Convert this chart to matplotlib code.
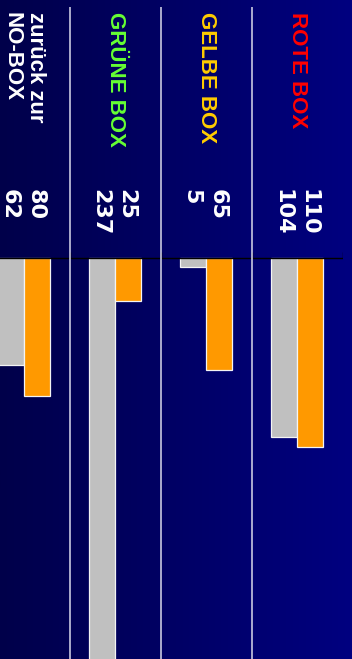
import matplotlib
matplotlib.use('Agg')
import matplotlib.pyplot as plt
import numpy as np
from matplotlib.colors import LinearSegmentedColormap
from matplotlib.transforms import blended_transform_factory

plt.rcParams['font.family'] = ['Liberation Sans', 'DejaVu Sans']

# data (chart is drawn turned by 90 degrees, first category on the right)
categories = ['ROTE BOX', 'GELBE BOX', 'GRÜNE BOX', 'zurück zur\nNO-BOX']
label_colors = ['#FF0000', '#FFCC00', '#66FF33', '#FFFFFF']
gray_values = [104, 5, 237, 62]
orange_values = [110, 65, 25, 80]

W, H = 352, 659
fig = plt.figure(figsize=(W / 100, H / 100), dpi=100)

# background gradient, dark navy on the left to blue on the right
bg = fig.add_axes([0, 0, 1, 1])
cmap = LinearSegmentedColormap.from_list('bg', ['#00004A', '#000080'])
bg.imshow(np.linspace(0, 1, 256)[None, :], aspect='auto', cmap=cmap,
          extent=[0, 1, 0, 1])
bg.axis('off')

# main axes: categories along x, values downward along y
zero_px = 258
px_per_unit = 1.72
top_px = 7
ax = fig.add_axes([-21.5 / W, 0, 364 / W, (H - top_px) / H])
ax.set_xlim(-0.5, 3.5)
ax.set_ylim((H - zero_px) / px_per_unit, -(zero_px - top_px) / px_per_unit)
ax.axis('off')

n = len(categories)
x = np.arange(n)[::-1]
bw = 0.286

ax.bar(x - bw / 2, gray_values, width=bw, color='#C0C0C0',
       edgecolor='#F4F4F4', linewidth=0.9, zorder=3)
ax.bar(x + bw / 2, orange_values, width=bw, color='#FF9900',
       edgecolor='#F4F4F4', linewidth=0.9, zorder=3)

# value axis line with small ticks
ax.hlines(0, -0.5, 3.5, color='black', linewidth=1.0, zorder=4)
ax.vlines(np.arange(-0.5, n), 0, -3.5, color='black', linewidth=1.0, zorder=4)

# row separators
for sep in np.arange(0.5, n - 0.5):
    ax.axvline(sep, color='#C8C8E0', linewidth=1.2, zorder=5)

# labels and values
tr = blended_transform_factory(ax.transData, fig.transFigure)
for xi, cat, col, g, o in zip(x, categories, label_colors, gray_values, orange_values):
    ax.text(xi, 1 - 12 / H, cat, transform=tr, rotation=-90,
            rotation_mode='anchor', ha='left', va='center', color=col,
            fontsize=16, fontweight='bold', linespacing=1.15)
    for xv, v in ((xi - bw / 2 - 0.02, g), (xi + bw / 2 - 0.02, o)):
        ax.text(xv, 1 - 189 / H, str(v), transform=tr, rotation=-90,
                rotation_mode='anchor', ha='left', va='center', color='white',
                fontsize=16, fontweight='bold', family='DejaVu Sans')

fig.savefig('out.png', dpi=100)
